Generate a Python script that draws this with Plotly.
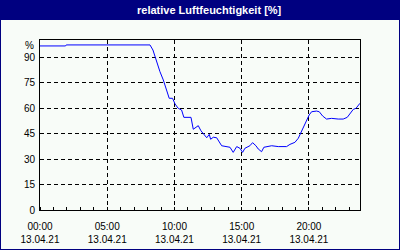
import plotly.graph_objects as go

hours = [0, 1.9, 1.95, 8.18, 8.4, 8.67, 8.92, 9.17, 9.42, 9.61, 9.86, 10.04, 10.28, 10.53, 10.7,
         11.03, 11.23, 11.4, 11.6, 11.77, 11.97, 12.14, 12.4, 12.59, 12.69, 12.89, 13.14, 13.51,
         13.88, 14.13, 14.37, 14.63, 14.87, 15.07, 15.24, 15.61, 15.81, 16.06, 16.23, 16.48,
         16.65, 16.98, 17.23, 17.72, 18.34, 18.59, 18.96, 19.21, 19.38, 19.58, 19.83, 20.02,
         20.2, 20.57, 20.77, 21.02, 21.31, 21.69, 22.18, 22.55, 22.85, 23.05, 23.3, 23.5,
         23.67, 23.8]
humidity = [96.5, 96.5, 97.1, 97.1, 94.1, 87.2, 81.4, 76.5, 70.6, 65.7, 65.7, 62.4, 59.8, 58.8,
            54.5, 54.5, 54.5, 47.5, 48.5, 49.6, 46.6, 45.1, 42.5, 44.5, 41.6, 42.8, 42.5, 37.8,
            37.3, 36.9, 33.9, 37.3, 36.3, 33.9, 36.3, 37.8, 39.6, 37.8, 35.9, 34.3, 36.9, 37.3,
            37.8, 37.3, 37.3, 38.6, 39.8, 42.2, 45.1, 49.0, 52.9, 55.9, 57.8, 58.2, 57.8, 55.3,
            53.5, 53.9, 53.5, 53.5, 54.5, 56.8, 59.2, 59.8, 61.8, 62.8]

x_tickvals = [0, 5, 10, 15, 20]
x_ticktext = ["00:00<br>13.04.21", "05:00<br>13.04.21", "10:00<br>13.04.21",
              "15:00<br>13.04.21", "20:00<br>13.04.21"]
y_tickvals = [0, 15, 30, 45, 60, 75, 90]
title_text = "relative Luftfeuchtigkeit [%]"
unit_label = "%"

NAVY = "#000080"
BG = "#F8FCF8"
FONT = "Liberation Sans"

fig = go.Figure()
fig.add_trace(go.Scatter(x=hours, y=humidity, mode="lines",
                         line=dict(color="#0000FF", width=1), hoverinfo="skip"))

W, H = 400, 250
L, R, T, B = 40, 40, 40, 40
pw, ph = W - L - R, H - T - B

def px_x(p):
    return (p - L) / pw

def px_y(p):
    return 1 - (p - T) / ph

fig.update_layout(
    width=W, height=H,
    margin=dict(l=L, r=R, t=T, b=B),
    paper_bgcolor=BG, plot_bgcolor=BG,
    showlegend=False,
    font=dict(family=FONT, size=10, color="#000000"),
    xaxis=dict(range=[0, 23.8], tickmode="array", tickvals=x_tickvals, ticktext=x_ticktext,
               showgrid=True, gridcolor="#000000", gridwidth=1, griddash="4px,3px",
               showline=True, linecolor="#000000", linewidth=1, mirror=True,
               ticks="", zeroline=False, ticklabelstandoff=7, automargin=False,
               minor=dict(dtick=1, tick0=0, ticks="inside", ticklen=3, tickcolor="#000000",
                          showgrid=False),
               tickfont=dict(family=FONT, size=10, color="#000000")),
    yaxis=dict(range=[0, 100], tickmode="array", tickvals=y_tickvals,
               showgrid=True, gridcolor="#000000", gridwidth=1, griddash="4px,3px",
               showline=True, linecolor="#000000", linewidth=1, mirror=True,
               ticks="", zeroline=False, ticklabelstandoff=2, automargin=False,
               tickfont=dict(family=FONT, size=10, color="#000000")),
    shapes=[
        dict(type="rect", xref="paper", yref="paper",
             x0=px_x(0), x1=px_x(W), y0=px_y(0), y1=px_y(20),
             fillcolor=NAVY, line=dict(width=0), layer="below"),
        dict(type="rect", xref="paper", yref="paper",
             x0=px_x(0), x1=px_x(W), y0=px_y(0), y1=px_y(H),
             fillcolor="rgba(0,0,0,0)", line=dict(color=NAVY, width=2), layer="above"),
    ],
    annotations=[
        dict(text="<b>" + title_text + "</b>", xref="paper", yref="paper",
             x=px_x(209), y=px_y(10), xanchor="center", yanchor="middle", showarrow=False,
             font=dict(family=FONT, size=11, color="#FFFFFF")),
        dict(text=unit_label, xref="paper", yref="y", x=0, y=97, xanchor="right",
             yanchor="middle", xshift=-4, showarrow=False,
             font=dict(family=FONT, size=10, color="#000000")),
    ],
)

fig.write_html("out.html")
